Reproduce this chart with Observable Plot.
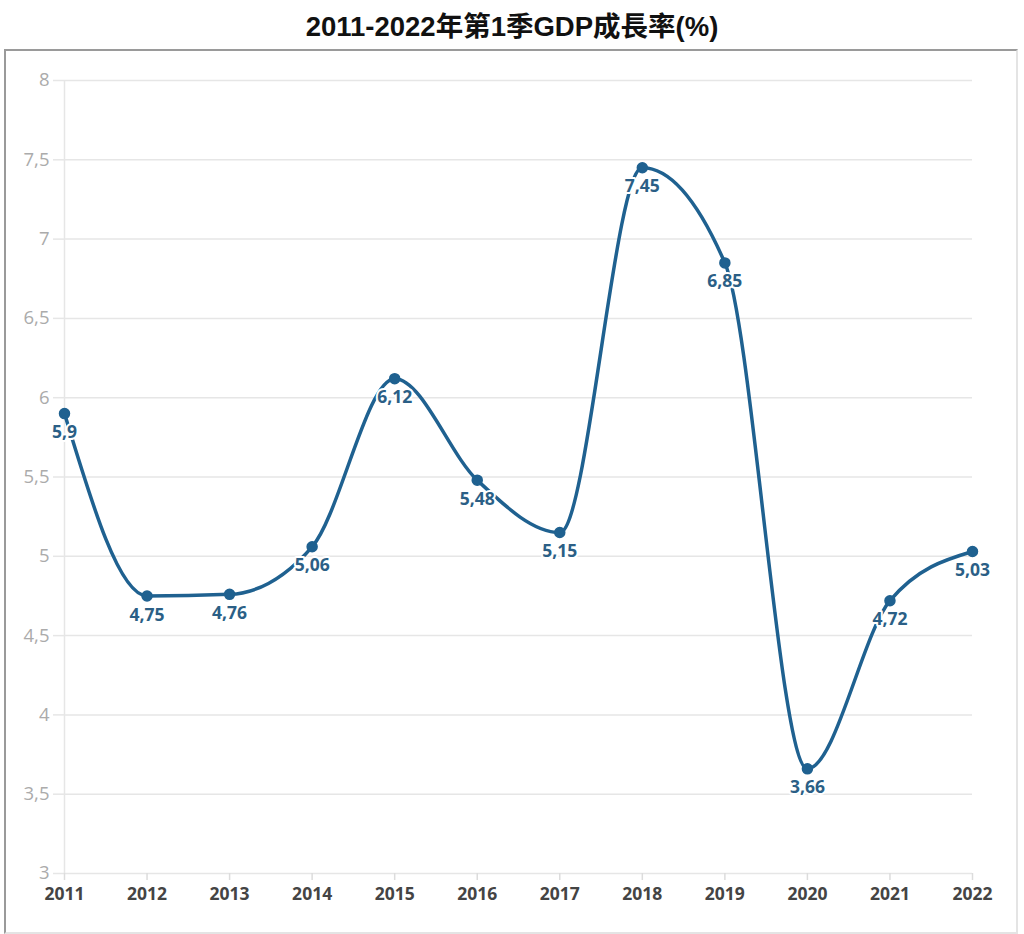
<!DOCTYPE html>
<html>
<head>
<meta charset="utf-8">
<script src="https://cdn.jsdelivr.net/npm/d3@7"></script>
<script src="https://cdn.jsdelivr.net/npm/@observablehq/plot@0.6"></script>
<style>
  html, body { margin: 0; padding: 0; background: #fff; }
  #title {
    height: 49px; width: 1024px; text-align: center;
    font-family: "Liberation Sans", Arial, "Noto Sans CJK TC", sans-serif;
    font-weight: bold; font-size: 27.5px; line-height: 54px; color: #111;
  }
  #frame {
    position: absolute; left: 4px; top: 49px; width: 1010px; height: 881px;
    border-left: 2px solid #9a9a9a; border-top: 2px solid #9a9a9a;
    border-right: 2px solid #e4e4e4; border-bottom: 2px solid #e4e4e4;
  }
  #frame svg { display: block; }
</style>
</head>
<body>
<div id="title">2011-2022年第1季GDP成長率(%)</div>
<div id="frame"></div>
<script>
const years = [2011, 2012, 2013, 2014, 2015, 2016, 2017, 2018, 2019, 2020, 2021, 2022];
const gdpGrowth = [5.9, 4.75, 4.76, 5.06, 6.12, 5.48, 5.15, 7.45, 6.85, 3.66, 4.72, 5.03];
const yTicks = [3, 3.5, 4, 4.5, 5, 5.5, 6, 6.5, 7, 7.5, 8];

const data = years.map((year, i) => ({year, value: gdpGrowth[i]}));
const fmt = v => String(v).replace(".", ",");
const lineColor = "#1f6190";
const labelColor = "#2b5f86";

const chart = Plot.plot({
  width: 1010,
  height: 881,
  marginLeft: 58,
  marginRight: 44,
  marginTop: 29,
  marginBottom: 59,
  style: {fontFamily: "'Open Sans', 'Noto Sans', sans-serif", background: "#fff"},
  x: {domain: [years[0], years[years.length - 1]]},
  y: {domain: [yTicks[0], yTicks[yTicks.length - 1]]},
  marks: [
    Plot.gridY(yTicks, {stroke: "#e6e6e6", strokeOpacity: 1, strokeWidth: 1.5}),
    Plot.ruleX([years[0]], {stroke: "#e6e6e6", strokeWidth: 1.5}),
    Plot.axisY(yTicks, {
      tickSize: 11, tickPadding: 4, stroke: "#e6e6e6", strokeWidth: 1.5,
      fill: "#ababab", fontSize: 18.5, tickFormat: fmt, label: null
    }),
    Plot.axisX(years, {
      tickSize: 7, tickPadding: 7, stroke: "#dcdcdc", strokeWidth: 1.5,
      fill: "#444", fontSize: 17.5, fontWeight: "bold", tickFormat: d => String(d), label: null
    }),
    Plot.line(data, {x: "year", y: "value", stroke: lineColor, strokeWidth: 3.5, curve: "monotone-x"}),
    Plot.dot(data, {x: "year", y: "value", r: 5, fill: lineColor, stroke: lineColor}),
    Plot.text(data, {
      x: "year", y: "value", text: d => fmt(d.value), dy: 19,
      textAnchor: d => d.year === years[0] ? "start" : "middle",
      fill: labelColor, fontSize: 17.5, fontWeight: "bold",
      stroke: "#fff", strokeWidth: 4
    })
  ]
});
document.getElementById("frame").appendChild(chart);
</script>
</body>
</html>
